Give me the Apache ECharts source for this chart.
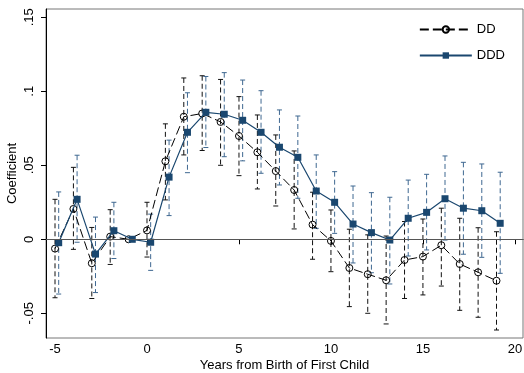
<!DOCTYPE html>
<html>
<head>
<meta charset="utf-8">
<script src="https://cdn.jsdelivr.net/npm/echarts@6/dist/echarts.min.js"></script>
<style>
  html, body { margin: 0; padding: 0; background: #fff; }
  #chart { width: 524px; height: 373px; }
</style>
</head>
<body>
<div id="chart"></div>
<script>
const years = [-5, -4, -3, -2, -1, 0, 1, 2, 3, 4, 5, 6, 7, 8, 9, 10, 11, 12, 13, 14, 15, 16, 17, 18, 19];

const dd = [-0.0063, 0.0205, -0.0162, 0.0018, 0, 0.006, 0.0527, 0.0828, 0.085, 0.0793, 0.0698, 0.0588, 0.0461,
  0.0333, 0.0099, -0.0011, -0.0194, -0.0236, -0.0277, -0.014, -0.0117, -0.004, -0.0167, -0.0223, -0.028];
const ddLo = [-0.0395, -0.0068, -0.040, -0.017, null, -0.012, 0.0266, 0.057, 0.060, 0.050, 0.043, 0.034, 0.0225,
  0.007, -0.0135, -0.0219, -0.0455, -0.050, -0.0572, -0.040, -0.0376, -0.0316, -0.048, -0.0527, -0.0613];
const ddHi = [0.027, 0.0486, 0.008, 0.020, null, 0.025, 0.078, 0.109, 0.1105, 0.108, 0.0964, 0.084, 0.0705,
  0.0597, 0.0318, 0.0198, 0.0068, 0.003, 0.0022, 0.012, 0.0137, 0.021, 0.0142, 0.0078, 0.0051];

const ddd = [-0.0023, 0.027, -0.010, 0.0058, 0, -0.002, 0.042, 0.0723, 0.0858, 0.0845, 0.0804, 0.0723, 0.0622,
  0.0554, 0.0326, 0.025, 0.0103, 0.0045, -0.0005, 0.0142, 0.0182, 0.0274, 0.021, 0.0193, 0.0108];
const dddLo = [-0.037, -0.002, -0.036, -0.013, null, -0.021, 0.016, 0.045, 0.062, 0.0558, 0.053, 0.0446, 0.0367,
  0.0277, 0.0074, 0.004, -0.016, -0.0226, -0.0302, -0.0113, -0.0072, -0.0005, -0.0101, -0.0122, -0.023];
const dddHi = [0.032, 0.0568, 0.015, 0.025, null, 0.017, 0.067, 0.099, 0.110, 0.1126, 0.1076, 0.1004, 0.0874,
  0.0833, 0.057, 0.0457, 0.036, 0.0315, 0.0284, 0.040, 0.0439, 0.0563, 0.052, 0.0509, 0.0453];

const xTicks = [-5, 0, 5, 10, 15, 20];
const yTicks = [-0.05, 0, 0.05, 0.1, 0.15];
const dddShift = 0.2;

const navy = "#1a476f";
const font = "Liberation Sans, Arial, sans-serif";

function fmtY(v) {
  if (Math.abs(v) < 1e-9) return "0";
  const s = String(+v.toFixed(2));
  return s.replace("0.", ".");
}

function bars(xs, lo, hi) {
  return xs.map((x, i) => [x, lo[i], hi[i]]).filter((d) => d[1] !== null);
}

function barRenderer(color) {
  return (params, api) => {
    const top = api.coord([api.value(0), api.value(2)]);
    const bot = api.coord([api.value(0), api.value(1)]);
    const w = 2.5;
    const dashed = { stroke: color, lineWidth: 1, lineDash: [5, 3] };
    const solid = { stroke: color, lineWidth: 1 };
    return {
      type: "group",
      children: [
        { type: "line", shape: { x1: top[0], y1: top[1], x2: bot[0], y2: bot[1] }, style: dashed },
        { type: "line", shape: { x1: top[0] - w, y1: top[1], x2: top[0] + w, y2: top[1] }, style: solid },
        { type: "line", shape: { x1: bot[0] - w, y1: bot[1], x2: bot[0] + w, y2: bot[1] }, style: solid },
      ],
    };
  };
}

const chart = echarts.init(document.getElementById("chart"), null, { renderer: "canvas" });

chart.setOption({
  animation: false,
  textStyle: { fontFamily: font },
  grid: {
    left: 46, right: 1, top: 9, bottom: 35,
    outerBoundsMode: "none",
    containLabel: false,
    show: true, borderColor: "#777", borderWidth: 1,
  },
  legend: {
    orient: "vertical",
    right: 14,
    top: 18,
    itemWidth: 52,
    itemHeight: 8,
    itemGap: 13,
    textStyle: { fontSize: 13, color: "#000", fontFamily: font },
    data: ["DD", "DDD"],
  },
  xAxis: {
    type: "value",
    min: -5.49,
    max: 20.44,
    name: "Years from Birth of First Child",
    nameLocation: "middle",
    nameGap: 21,
    nameMoveOverlap: false,
    nameTextStyle: { fontSize: 13, color: "#000" },
    splitLine: { show: false },
    axisLine: { show: true, lineStyle: { color: "#000", width: 1 } },
    axisTick: { show: true, length: 5, customValues: xTicks, lineStyle: { color: "#000" } },
    axisLabel: { customValues: xTicks, fontSize: 13, color: "#000", margin: 5 },
  },
  yAxis: {
    type: "value",
    min: -0.0667,
    max: 0.1556,
    name: "Coefficient",
    nameLocation: "middle",
    nameGap: 27,
    nameMoveOverlap: false,
    nameTextStyle: { fontSize: 13, color: "#000" },
    splitLine: { show: false },
    axisLine: { show: true, onZero: false, lineStyle: { color: "#000", width: 1 } },
    axisTick: { show: true, length: 5, customValues: yTicks, lineStyle: { color: "#000" } },
    axisLabel: {
      customValues: yTicks, rotate: 90, fontSize: 13, color: "#000", margin: 10,
      formatter: fmtY,
    },
  },
  series: [
    {
      name: "DD bars",
      type: "custom",
      renderItem: barRenderer("#111"),
      data: bars(years, ddLo, ddHi),
      encode: { x: 0, y: [1, 2] },
      silent: true,
      z: 2,
    },
    {
      name: "DDD bars",
      type: "custom",
      renderItem: barRenderer("#3f6891"),
      data: bars(years.map((y) => y + dddShift), dddLo, dddHi),
      encode: { x: 0, y: [1, 2] },
      silent: true,
      z: 2,
    },
    {
      name: "DD",
      type: "line",
      data: years.map((x, i) => [x, dd[i]]),
      symbol: "circle",
      symbolSize: 7,
      showAllSymbol: true,
      lineStyle: { color: "#000", width: 1, type: [9, 4] },
      itemStyle: { color: "rgba(0,0,0,0)", borderColor: "#000", borderWidth: 1 },
      z: 3,
      markLine: {
        silent: true,
        symbol: "none",
        label: { show: false },
        lineStyle: { color: "#555", width: 1, type: "solid" },
        data: [{ yAxis: 0 }],
      },
    },
    {
      name: "DDD",
      type: "line",
      data: years.map((x, i) => [x + dddShift, ddd[i]]),
      symbol: "rect",
      symbolSize: 7,
      showAllSymbol: true,
      lineStyle: { color: navy, width: 1.2 },
      itemStyle: { color: navy },
      z: 4,
    },
  ],
});
</script>
</body>
</html>
